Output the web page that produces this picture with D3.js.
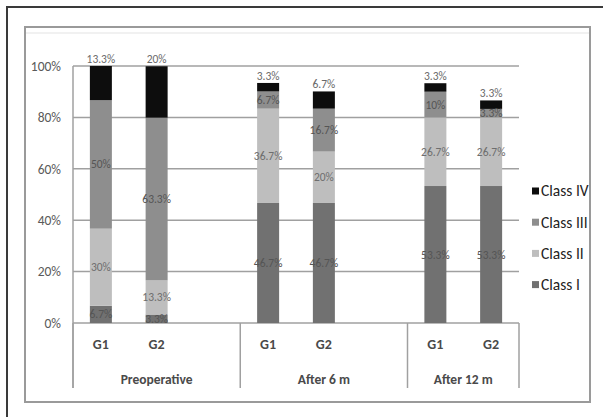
<!DOCTYPE html>
<html><head><meta charset="utf-8">
<script src="https://cdn.jsdelivr.net/npm/d3@7"></script>
<style>body{margin:0;background:#fff}svg{display:block}text{font-family:"Liberation Sans Narrow",Carlito,"Arial Narrow","Open Sans",sans-serif}</style>
</head><body>
<script>
const groups = ["Preoperative", "After 6 m", "After 12 m"];
const slotKeys = ["P-G1","P-G2","P-x","6-G1","6-G2","6-x","12-G1","12-G2"];
const barSlots = ["P-G1","P-G2","6-G1","6-G2","12-G1","12-G2"];
const barNames = ["G1","G2","G1","G2","G1","G2"];
const classes = ["Class I","Class II","Class III","Class IV"];
const classI   = [6.7, 3.3, 46.7, 46.7, 53.3, 53.3];
const classII  = [30, 13.3, 36.7, 20, 26.7, 26.7];
const classIII = [50, 63.3, 6.7, 16.7, 10, 3.3];
const classIV  = [13.3, 20, 3.3, 6.7, 3.3, 3.3];
const yTicks = [0,20,40,60,80,100];
const colors = ["#717171","#bebebe","#8e8e8e","#0d0d0d"];

const W=603,H=417;
const svg=d3.select("body").append("svg").attr("width",W).attr("height",H);
svg.append("rect").attr("x",7).attr("y",7).attr("width",W).attr("height",H).attr("fill","none").attr("stroke","#3a3a3a").attr("stroke-width",2);
svg.append("rect").attr("x",25).attr("y",27).attr("width",565).attr("height",375).attr("fill","#fff").attr("stroke","#9a9a9a").attr("stroke-width",2);
svg.append("line").attr("x1",26).attr("x2",589).attr("y1",33).attr("y2",33).attr("stroke","#ececec").attr("stroke-width",1.5);

const x=d3.scaleBand().domain(slotKeys).range([73,519]).paddingInner(0).paddingOuter(0);
const y=d3.scaleLinear().domain([0,100]).range([323,66]);
const bw=22;

svg.append("g").selectAll("line").data(yTicks).join("line")
  .attr("x1",73).attr("x2",519).attr("y1",d=>y(d)).attr("y2",d=>y(d))
  .attr("stroke","#a0a0a0").attr("stroke-width",1.5);
svg.append("line").attr("x1",73).attr("x2",73).attr("y1",y(100)).attr("y2",388).attr("stroke","#a0a0a0").attr("stroke-width",1.5);
svg.append("g").selectAll("text").data(yTicks).join("text")
  .attr("x",61).attr("y",d=>y(d)).attr("dy","0.35em").attr("text-anchor","end")
  .attr("font-size",13.5).attr("fill","#5a5a5a").text(d=>d+"%");

const seps=[73, x("P-x")+x.bandwidth(), x("6-x")+x.bandwidth(), 519];
svg.append("g").selectAll("line").data(seps).join("line")
  .attr("x1",d=>d).attr("x2",d=>d).attr("y1",323).attr("y2",388).attr("stroke","#a0a0a0").attr("stroke-width",1.5);

const rows=barSlots.map((s,i)=>({slot:s,"Class I":classI[i],"Class II":classII[i],"Class III":classIII[i],"Class IV":classIV[i]}));
const stack=d3.stack().keys(classes)(rows);
const bg=svg.append("g");
stack.forEach((layer,li)=>{
  bg.selectAll(null).data(layer).join("rect")
    .attr("x",d=>x(d.data.slot)+x.bandwidth()/2-bw/2).attr("width",bw)
    .attr("y",d=>y(d[1])).attr("height",d=>y(d[0])-y(d[1]))
    .attr("fill",colors[li]);
});
stack.forEach((layer,li)=>{
  bg.selectAll(null).data(layer).join("text")
    .attr("x",d=>x(d.data.slot)+x.bandwidth()/2)
    .attr("y",d=> li===3 ? y(d[1])-7 : y((d[0]+d[1])/2))
    .attr("dy","0.35em").attr("text-anchor","middle")
    .attr("font-size",11.5)
    .attr("fill", li===3 ? "#6a6a6a" : (li===1 ? "#6e6e6e" : "#555"))
    .text(d=>(d[1]-d[0]).toFixed(1).replace(/\.0$/,"")+"%");
});

svg.append("g").selectAll("text").data(barSlots).join("text")
  .attr("x",d=>x(d)+x.bandwidth()/2).attr("y",344).attr("dy","0.35em").attr("text-anchor","middle")
  .attr("font-size",14).attr("font-weight","bold").attr("fill","#4a4a4a").text((d,i)=>barNames[i]);
svg.append("g").selectAll("text").data(groups).join("text")
  .attr("x",(d,i)=>(seps[i]+seps[i+1])/2).attr("y",379).attr("dy","0.35em").attr("text-anchor","middle")
  .attr("font-size",13.5).attr("font-weight","bold").attr("fill","#4a4a4a").text(d=>d);

const leg=svg.append("g");
const legOrder=[3,2,1,0];
legOrder.forEach((ci,k)=>{
  const yy=191+k*31.2;
  leg.append("rect").attr("x",532).attr("y",yy-3.5).attr("width",7).attr("height",7).attr("fill",colors[ci]);
  leg.append("text").attr("x",541).attr("y",yy).attr("dy","0.35em").attr("font-size",15.5).attr("fill","#222").text(classes[ci]);
});
</script>
</body></html>
